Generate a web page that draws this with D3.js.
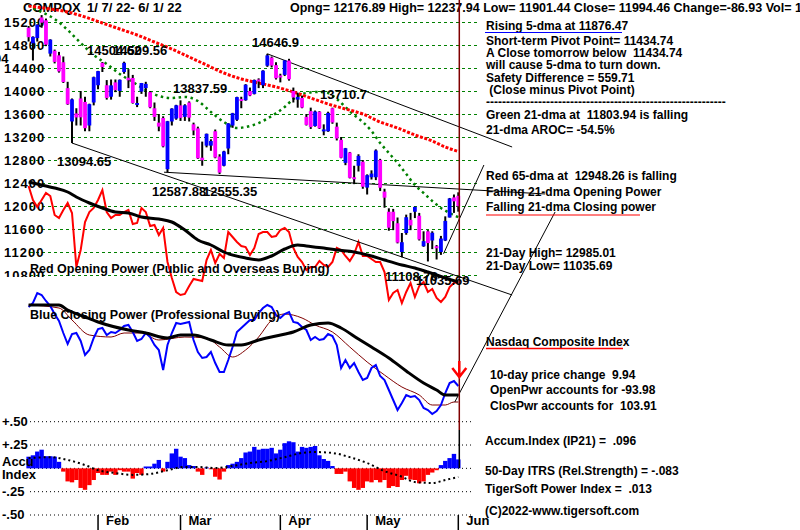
<!DOCTYPE html>
<html><head><meta charset="utf-8">
<script src="https://cdn.jsdelivr.net/npm/d3@7"></script>
<style>
body{margin:0;background:#fff}
svg{display:block}
text{font-family:"Liberation Sans",Arial,sans-serif;font-weight:bold;white-space:pre;fill:#000}
</style>
</head><body>
<svg id="c" width="800" height="530"></svg>
<script>
// ---------- DATA ----------
const open=[15100,14830,14920,15280,15230,14650,14700,14620,14500,14050,
13470,13610,13870,13810,13400,13800,14100,14490,14100,13900,
14150,14000,14330,14230,14226,13780,13990,14050,13980,13700,
13450,13530,12640,13470,13520,13750,13550,13800,13420,13350,
12840,13050,13050,13300,12860,12700,13000,13400,13500,13860,
13840,14000,13950,14200,14100,14440,14580,14450,14270,14280,
14530,14000,13850,13880,13550,13650,13390,13640,13320,13300,
13700,13380,13150,12750,12930,12500,12700,12770,12320,12500,
12500,12800,12250,11900,11900,11700,11200,11530,11760,11900,
11830,11300,11560,11400,11300,11200,11400,11800,12150,12176.89];
const high=[15130,14950,15160,15320,15260,14900,14720,14680,14600,14160,
13870,13700,14000,13900,13780,14250,14350,14504.62,14190,14200,
14200,14200,14509.56,14380,14280,13900,14140,14160,14000,13800,
13600,13560,13480,13700,13760,13837.59,13770,13820,13450,13380,
13120,13260,13160,13330,12900,12960,13440,13620,13900,13900,
14120,14060,14200,14220,14360,14646.9,14600,14500,14300,14540,
14560,14060,13970,13920,13600,13710.7,13660,13650,13420,13640,
13710,13450,13200,13010,12940,12700,12900,12800,12550,12620,
12985.01,12820,12300,11960,11950,11800,11530,11850,11880,11990,
11880,11560,11580,11560,11320,11480,11820,12140,12200,12237.94];
const low=[14860,14530,14860,15100,14780,14600,14480,14320,14140,13760,
13094.65,13400,13400,13300,13300,13750,14030,14330,13850,13850,
13980,13900,14300,14050,13780,13720,13950,13900,13700,13480,
13300,13020,12587.88,13400,13500,13480,13480,13470,13230,12820,
12700,13020,12960,12830,12555.35,12690,12900,13360,13480,13700,
13830,13910,13940,14050,14050,14420,14410,14200,14150,14260,
14180,13800,13710,13700,13400,13340,13380,13340,13230,13290,
13430,13140,12830,12710,12480,12380,12600,12300,12200,12460,
12450,12260,11970,11570,11580,11350,11108.76,11500,11580,11790,
11400,11290,11035.69,11250,11070,11150,11390,11800,11880,11901.44];
const close=[14936,14942,15153,15188,14806,14893,14506,14340,14155,13770,
13855,13540,13542,13353,13771,14240,14346,14417,13879,14098,
14015,14195,14490,14186,13791,13791,14139,14124,13716,13548,
13381,13037,13474,13694,13751,13533,13752,13537,13313,12830,
12795,13255,13130,12843,12581,12949,13437,13614,13894,13838,
14109,13922,14191,14169,14354,14619,14442,14221,14261,14532,
14204,13888,13897,13711,13411,13372,13643,13351,13332,13619,
13453,13174,12839,13004,12490,12488,12872,12335,12536,12564,
12965,12318,12145,11623,11737,11365,11370,11805,11663,11984,
11418,11389,11355,11535,11265,11434,11741,12131,12081,11994.46];

// 21-dma (green) and 65-dma (red): [day index, value]
const ma21Day=[0,1,3,6,9,12,15,18,21,24,27,30,33,36,39,42,45,48,50,53,56,59,61,64,67,69,71,73,75,77,79,81,83,85,87,89,91,93,95,97,99];
const ma21Val=[15496,15443,15374,15252,15061,14835,14626,14470,14296,14157,14017,13913,13878,13896,13826,13635,13461,13357,13374,13443,13565,13722,13861,13965,13983,13965,13861,13722,13583,13461,13304,13096,12922,12748,12557,12365,12226,12087,11965,11878,11803.94];
const ma65Day=[0,5,9,13,17,21,25,29,33,37,41,45,49,53,57,61,65,69,73,77,81,85,89,93,96,99];
const ma65Val=[15478,15426,15374,15287,15183,15078,14974,14852,14730,14591,14452,14313,14209,14139,14070,13983,13878,13774,13687,13600,13461,13357,13235,13130,13026,12948.26];

// Opening power (red) daily
const openPower=[124,110,103,110,117,114,95,92,100,107,
97,43,60,88,98,102,110,120,98,92,
95,95,98,100,86,87,102,98,84,85,
75,82,48,32,18,15,16,24,31,30,
29,50,60,47,56,52,78,73,68,64,
63,55,62,76,78,78,73,74,80,82,
78,62,53,48,40,43,43,49,45,43,
48,62,60,54,49,56,68,54,54,51,
48,48,38,10,17,20,7,18,27,13,
24,28,18,21,12,8,13,23,27,28];
const opMaDay=[0,3,6,9,11,14,17,20,23,26,30,33,36,39,42,45,50,53,56,59,62,64,68,71,75,79,82,86,89,92,96,99];
const opMaVal=[128,125,122,118,113,107,102,98,97,93,91,88,80,70,65,58,52,50,54,61,65,64,62,60,58,54,50,45,42,38,32,28];

// Closing power (blue) daily
const closePower=[113,117,127,125,119,114,106,99,87,76,
86,87,79,65,70,82,91,92,85,88,
87,90,94,95,88,79,81,87,83,75,
70,50,75,87,97,96,97,98,80,68,
62,63,68,57,48,48,60,73,88,92,
96,100,100,107,112,115,113,105,102,106,
108,98,97,93,90,80,83,80,81,86,
84,75,52,60,52,57,48,40,42,52,
55,44,40,30,20,10,17,25,23,24,
20,12,10,6,9,15,27,37,39,34];
const cpMaDay=[0,7,9,13,16,23,27,32,35,38,42,46,49,53,57,61,65,69,72,76,79,83,87,91,94,96,99];
const cpMaVal=[115,115,110,103,98,90,87,82,85,85,80,75,75,80,84,88,95,97,92,81,73,62,49,37,30,25,25];
const cpMa2Day=[0,7,10,14,19,22,26,30,36,41,44,47,50,53,56,59,63,66,70,74,78,82,86,90,93,96,98,99];
const cpMa2Val=[115,112,100,85,83,87,87,80,83,82,73,63,70,83,100,106,102,95,88,73,58,45,33,25,15,15,18,18];

// Accumulation index (IP21) daily and its MA
const accum=[.125,.14,.18,.20,.13,.13,.125,.07,-.035,-.14,
-.15,-.125,-.21,-.23,-.18,-.125,-.05,-.07,-.07,-.035,
-.07,-.02,-.035,-.035,-.11,-.05,-.07,.02,.02,.05,
.09,-.035,.07,.16,.21,.125,.11,.035,.025,-.035,
-.07,.01,-.01,-.09,-.12,-.035,.035,.05,.07,.11,
.17,.18,.23,.20,.21,.21,.22,.16,.20,.27,
.29,.28,.18,.23,.22,.23,.24,.14,.10,.08,
.025,-.06,-.06,-.035,-.14,-.21,-.23,-.21,-.14,-.15,
-.125,-.15,-.125,-.21,-.19,-.20,-.125,-.08,-.12,-.125,
-.16,-.14,-.07,-.045,-.02,.035,.08,.11,.155,.096];
const accMaDay=[0,5,9,13,16,20,24,28,32,36,39,43,47,51,55,59,63,66,70,74,78,82,86,89,93,96,99];
const accMaVal=[.11,.12,.09,.035,-.02,-.05,-.07,-.06,-.02,.015,.015,.003,.025,.057,.078,.12,.165,.175,.165,.12,.057,-.03,-.09,-.147,-.157,-.125,-.093];

const priceTicks=[15200,14800,14400,14000,13600,13200,12800,12400,12000,11600,11200,10800];
const accTicks=[.5,.25,0,-.25,-.5];
const accTickLabels=["+.50","+.25","","-.25","-.50"];
const monthLabels=["Feb","Mar","Apr","May","Jun"];
const monthStart=[16,35,58,78,99];

// trend lines in [day index, price]
const trendLines=[
 [[55,14646.9],[111.4,13026]],
 [[10,13094.65],[111.4,10452]],
 [[31.2,12587.88],[119,12209]],
 [[95.6,11170],[104.9,12713]],
 [[98.2,8592],[121.3,11896]]
];

const priceLabels=[
 ["14646.9",252,47],["14504.62",87,55],["14509.56",113,55],["13837.59",173,93],
 ["13710.7",320,99],["13094.65",57,166],["12587.88",152,196],["12555.35",203,196],
 ["11108.76",385,281],["11035.69",416,285]];

const rightText=[
 ["Rising 5-dma at 11876.47",486,30],
 ["Short-term Pivot Point= 11434.74",486,45],
 ["A Close tomorrow below  11434.74",486,57],
 ["will cause 5-dma to turn down.",486,69],
 ["Safety Difference = 559.71",486,82],
 [" (Close minus Pivot Point)",486,94],
 ["------------------------------------------------------------",486,106],
 ["Green 21-dma at  11803.94 is falling",486,119],
 ["21-dma AROC= -54.5%",486,134],
 ["Red 65-dma at  12948.26 is falling",486,180],
 ["Falling 21-dma Opening Power",486,196],
 ["Falling 21-dma Closing power",486,211],
 ["21-Day High= 12985.01",486,257],
 ["21-Day Low= 11035.69",486,270],
 ["Nasdaq Composite Index",486,346],
 ["10-day price change  9.94",490,379],
 ["OpenPwr accounts for -93.98",490,394],
 ["ClosPwr accounts for  103.91",490,410],
 ["Accum.Index (IP21) =  .096",485,445],
 ["50-Day ITRS (Rel.Strength) = -.083",485,475],
 ["TigerSoft Power Index =  .013",485,493],
 ["(C)2022-www.tigersoft.com",485,515]];

// ---------- DRAW ----------
const svg=d3.select("#c");
const days=d3.range(close.length);
const x=d3.scaleLinear().domain([0,99]).range([28.6,458.3]);
const yP=d3.scaleLinear().domain([10800,15200]).range([275,22]);
const yOP=d3.scaleLinear().domain([0,150]).range([310,160]);
const yCP=d3.scaleLinear().domain([0,130]).range([420,290]);
const yA=d3.scaleLinear().domain([-0.5,0.5]).range([515,421.7]);

svg.append("rect").attr("width",800).attr("height",530).attr("fill","#fff");

// price grid
svg.append("g").selectAll("line").data(priceTicks).join("line")
 .attr("x1",30).attr("x2",478).attr("y1",d=>yP(d)+0.5).attr("y2",d=>yP(d)+0.5)
 .attr("stroke","#008000").attr("stroke-width",1).attr("stroke-dasharray","3,3");
svg.append("clipPath").attr("id","clipTop").append("rect").attr("x",0).attr("y",0).attr("width",60).attr("height",277);
svg.append("g").attr("clip-path","url(#clipTop)").selectAll("text").data(priceTicks).join("text")
 .attr("x",4).attr("y",d=>yP(d)+5).attr("font-size",13).attr("letter-spacing",1).text(d=>d);
svg.append("text").attr("x",-6).attr("y",63).attr("font-size",13).text("04");

// accum grid
svg.append("g").selectAll("line").data(accTicks).join("line")
 .attr("x1",30).attr("x2",474).attr("y1",d=>yA(d)).attr("y2",d=>yA(d))
 .attr("stroke","#000").attr("stroke-width",1).attr("stroke-dasharray","1,3");
svg.append("g").selectAll("text").data(accTicks).join("text")
 .attr("x",2).attr("y",d=>yA(d)+4).attr("font-size",13).text((d,i)=>accTickLabels[i]);

// header
svg.append("text").attr("x",23).attr("y",12).attr("font-size",13).text("COMPQX");
svg.append("text").attr("x",87).attr("y",12).attr("font-size",13).text("1/ 7/ 22- 6/ 1/ 22");
svg.append("text").attr("x",290).attr("y",12).attr("font-size",12.5).text("Opng= 12176.89 High= 12237.94 Low= 11901.44 Close= 11994.46 Change=-86.93 Vol= 1");

const lineIdx=(ys)=>d3.line().x(d=>x(d[0])).y(d=>ys(d[1])).curve(d3.curveMonotoneX);
const zipS=(a,b)=>a.map((d,i)=>[d,b[i]]);

// Opening power
svg.append("path").datum(days.map(i=>[i,openPower[i]])).attr("d",d3.line().x(d=>x(d[0])).y(d=>yOP(d[1])))
 .attr("fill","none").attr("stroke","#ff0000").attr("stroke-width",2);
svg.append("path").datum(zipS(opMaDay,opMaVal)).attr("d",lineIdx(yOP))
 .attr("fill","none").attr("stroke","#000").attr("stroke-width",3);

// Closing power
svg.append("path").datum(zipS(cpMa2Day,cpMa2Val)).attr("d",lineIdx(yCP))
 .attr("fill","none").attr("stroke","#800000").attr("stroke-width",1);
svg.append("path").datum(days.map(i=>[i,closePower[i]])).attr("d",d3.line().x(d=>x(d[0])).y(d=>yCP(d[1])))
 .attr("fill","none").attr("stroke","#0000ff").attr("stroke-width",2);
svg.append("path").datum(zipS(cpMaDay,cpMaVal)).attr("d",lineIdx(yCP))
 .attr("fill","none").attr("stroke","#000").attr("stroke-width",3);

// Accum bars
svg.append("g").selectAll("rect").data(days).join("rect")
 .attr("x",i=>x(i)-2.2).attr("width",4.4)
 .attr("y",i=>yA(Math.max(accum[i],0))).attr("height",i=>Math.abs(yA(accum[i])-yA(0)))
 .attr("fill",i=>accum[i]>=0?"#0000ff":"#ff0000");
svg.append("path").datum(zipS(accMaDay,accMaVal)).attr("d",lineIdx(yA))
 .attr("fill","none").attr("stroke","#000").attr("stroke-width",2).attr("stroke-dasharray","2,3");

// moving averages on price
svg.append("path").datum(zipS(ma21Day,ma21Val)).attr("d",lineIdx(yP))
 .attr("fill","none").attr("stroke","#008000").attr("stroke-width",2.5).attr("stroke-dasharray","2.5,3.5");
svg.append("path").datum(zipS(ma65Day,ma65Val)).attr("d",lineIdx(yP))
 .attr("fill","none").attr("stroke","#ff0000").attr("stroke-width",3).attr("stroke-dasharray","3,1.6");

// trend lines
svg.append("g").selectAll("line").data(trendLines).join("line")
 .attr("x1",d=>x(d[0][0])).attr("y1",d=>yP(d[0][1]))
 .attr("x2",d=>x(d[1][0])).attr("y2",d=>yP(d[1][1]))
 .attr("stroke","#000").attr("stroke-width",1);

// candles
const cg=svg.append("g");
cg.selectAll("line").data(days).join("line")
 .attr("x1",i=>x(i)).attr("x2",i=>x(i)).attr("y1",i=>yP(high[i])).attr("y2",i=>yP(low[i]))
 .attr("stroke","#000").attr("stroke-width",2);
cg.selectAll("rect").data(days).join("rect")
 .attr("x",i=>x(i)-1.9).attr("width",3.8)
 .attr("y",i=>yP(Math.max(open[i],close[i])))
 .attr("height",i=>Math.max(2,Math.abs(yP(open[i])-yP(close[i]))))
 .attr("fill",i=>close[i]>=open[i]?"#0000ff":"#ff00ff");

// vertical marker at last day
const xl=x(99)+1;
svg.append("line").attr("x1",xl).attr("x2",xl).attr("y1",0).attr("y2",430).attr("stroke","#800000").attr("stroke-width",1.5);
svg.append("line").attr("x1",xl).attr("x2",xl).attr("y1",430).attr("y2",468).attr("stroke","#000").attr("stroke-width",1.5);
// red arrow
svg.append("path").attr("d",`M${xl},361 L${xl},377 M${xl-7},368 L${xl},377 L${xl+7},368`)
 .attr("fill","none").attr("stroke","#ff0000").attr("stroke-width",2.5);

// month axis
svg.append("g").selectAll("line").data(monthStart).join("line")
 .attr("x1",d=>x(d)).attr("x2",d=>x(d)).attr("y1",515).attr("y2",530).attr("stroke","#000").attr("stroke-width",1.5);
svg.append("g").selectAll("text").data(monthStart).join("text")
 .attr("x",d=>x(d)+8).attr("y",525).attr("font-size",13).text((d,i)=>monthLabels[i]);

// in-chart labels
svg.append("g").selectAll("text").data(priceLabels).join("text")
 .attr("x",d=>d[1]).attr("y",d=>d[2]).attr("font-size",13).text(d=>d[0]);
svg.append("text").attr("x",30).attr("y",273).attr("font-size",12.5).text("Red Opening Power (Public and Overseas Buying)");
svg.append("text").attr("x",30).attr("y",319).attr("font-size",12.5).text("Blue Closing Power (Professional Buying)");
svg.append("text").attr("x",2).attr("y",466).attr("font-size",13).text("Accu");
svg.append("text").attr("x",2).attr("y",479).attr("font-size",13).text("Index");

// right panel
svg.append("g").selectAll("text").data(rightText).join("text")
 .attr("x",d=>d[1]).attr("y",d=>d[2]).attr("font-size",12).text(d=>d[0]);
svg.append("line").attr("x1",485).attr("x2",622).attr("y1",32.5).attr("y2",32.5).attr("stroke","#0000ff").attr("stroke-width",1.2);
svg.append("line").attr("x1",486).attr("x2",640).attr("y1",215).attr("y2",215).attr("stroke","#ff0000").attr("stroke-width",1.2);
svg.append("line").attr("x1",486).attr("x2",623).attr("y1",348.5).attr("y2",348.5).attr("stroke","#ff0000").attr("stroke-width",1.5);
</script>
</body></html>
